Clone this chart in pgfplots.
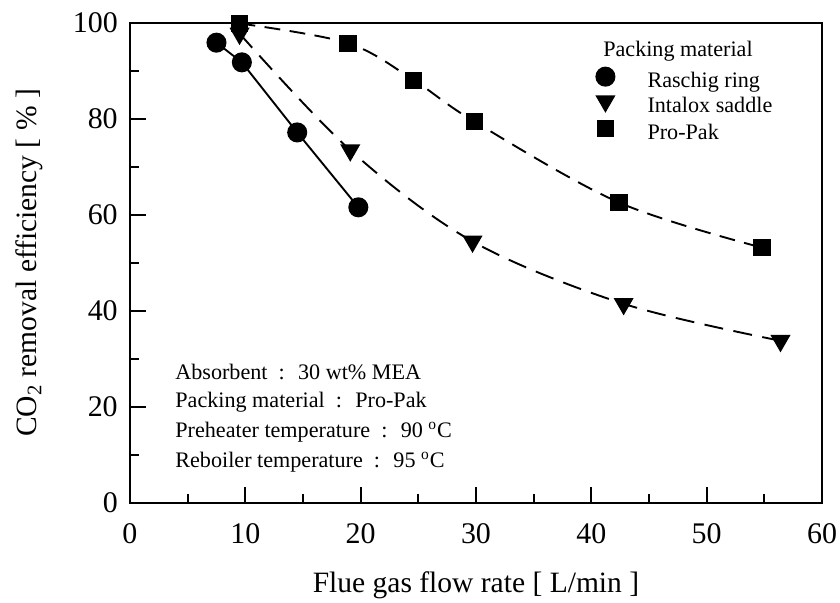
\documentclass[border=0pt]{standalone}
\usepackage{fontspec}
\setmainfont{Liberation Serif}
\usepackage{pgfplots}
\pgfplotsset{compat=1.18}
\usetikzlibrary{calc}

\newcommand{\sep}{\hspace{0.5em}:\hspace{0.6em}}

\begin{document}
\begin{tikzpicture}[x=1cm,y=1cm]
\def\px{0.016667cm}
\begin{axis}[
  name=ax,
  scale only axis,
  width=11.533cm, height=8cm,
  xmin=0, xmax=60, ymin=0, ymax=100,
  xtick={0,10,...,60}, ytick={0,20,...,100},
  minor xtick={5,15,...,55}, minor ytick={10,30,...,90},
  xtick pos=left, ytick pos=left,
  tick align=inside,
  major tick length=0.27cm, minor tick length=0.15cm,
  axis line style={line width=1pt},
  every tick/.style={line width=1pt, black},
  /pgf/number format/assume math mode=true,
  ticklabel style={font=\fontsize{14.2}{16}\selectfont},
  xticklabel style={yshift=-0.22cm},
  yticklabel style={xshift=-0.08cm},
  xlabel={Flue gas flow rate [ L/min ]},
  ylabel={CO\textsubscript{2} removal efficiency [ \% ]},
  every axis x label/.style={at={(axis description cs:0.5,-0.171)}, anchor=center,
    font=\fontsize{14}{16}\selectfont},
  every axis y label/.style={at={(axis description cs:-0.145,0.5)}, anchor=center, rotate=90,
    font=\fontsize{14}{16}\selectfont},
  legend style={draw=none, fill=none, inner sep=0pt, at={(axis cs:40.4,90.8)}, anchor=north west,
    font=\fontsize{10.5}{12}\selectfont, row sep=1.5pt,
    nodes={inner sep=0pt, text height=7.5pt, text depth=2.5pt}},
  legend cell align=left,
  legend image code/.code={\draw[#1, solid] plot[only marks] coordinates {(0.25cm,0.1cm)};},
  clip=false,
]
% Raschig ring
\addplot[black, line width=0.9pt, mark=*, mark size=4.3pt, mark options={solid}]
  coordinates {(7.5,95.9) (9.7,91.8) (14.5,77.2) (19.8,61.6)};
\addlegendentry{\hspace{0.55cm}Raschig ring}
% Intalox saddle
\addplot[black, line width=0.9pt, dash pattern=on 9pt off 5pt, smooth, tension=0.55,
  mark=triangle*, mark size=4.6pt, mark options={solid, rotate=180}]
  coordinates {(9.5,97.8) (19.1,73.5) (29.7,54.5) (42.8,41.5) (56.4,33.8)};
\addlegendentry{\hspace{0.55cm}Intalox saddle}
% Pro-Pak
\addplot[black, line width=0.9pt, dash pattern=on 7.5pt off 4.5pt, smooth, tension=0.55,
  mark=square*, mark size=3.6pt, mark options={solid}]
  coordinates {(9.5,99.9) (18.9,95.8) (24.6,88.1) (29.9,79.4) (42.4,62.6) (54.8,53.2)};
\addlegendentry{\hspace{0.55cm}Pro-Pak}

\node[anchor=west, inner sep=0pt, font=\fontsize{10.5}{12}\selectfont] at (axis cs:41.0,94.2) {Packing material};

\begin{scope}[every node/.style={anchor=west, font=\fontsize{10.5}{12}\selectfont, inner sep=0pt}]
\node at (axis cs:3.9,27.3) {Absorbent\sep 30 wt\% MEA};
\node at (axis cs:3.9,21.1) {Packing material\sep Pro-Pak};
\node at (axis cs:3.9,14.8) {Preheater temperature\sep 90 \textsuperscript{o}C};
\node at (axis cs:3.9,8.5) {Reboiler temperature\sep 95 \textsuperscript{o}C};
\end{scope}
\end{axis}
\pgfresetboundingbox
\path ($(ax.south west)+(-130*\px,-99*\px)$) rectangle ($(ax.north east)+(18*\px,23*\px)$);
\end{tikzpicture}
\end{document}
